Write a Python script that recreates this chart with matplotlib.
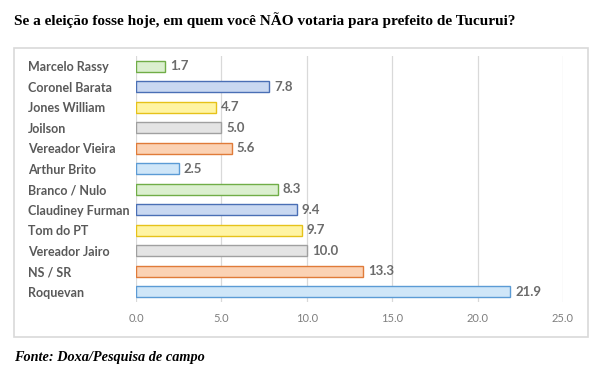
import matplotlib.pyplot as plt
from matplotlib.patches import Rectangle

nomes = ['Marcelo Rassy', 'Coronel Barata', 'Jones William', 'Joilson',
         'Vereador Vieira', 'Arthur Brito', 'Branco / Nulo', 'Claudiney Furman',
         'Tom do PT', 'Vereador Jairo', 'NS / SR', 'Roquevan']
valores = [1.7, 7.8, 4.7, 5.0, 5.6, 2.5, 8.3, 9.4, 9.7, 10.0, 13.3, 21.9]
ticks = [0, 5, 10, 15, 20, 25]

# office-like palette: (fill, edge)
paleta = [('#dbefcf', '#70ad47'), ('#c9d8f1', '#4a6fb5'), ('#fff4a3', '#e6c21a'),
          ('#e4e4e4', '#a0a0a0'), ('#fbd2b4', '#e07b39'), ('#cfe6f8', '#5b9bd5')]
fills = [paleta[i % 6][0] for i in range(len(nomes))]
edges = [paleta[i % 6][1] for i in range(len(nomes))]

fig = plt.figure(figsize=(6.1, 3.84), dpi=100)
fig.patches.append(Rectangle((14 / 610, 1 - 337 / 384), 574 / 610, 289 / 384,
                             transform=fig.transFigure, fill=False,
                             edgecolor='#d9d9d9', linewidth=1.2))

ax = fig.add_axes([136 / 610, 1 - 302 / 384, 427 / 610, 246 / 384])
y = list(range(len(nomes)))
ax.barh(y, valores, height=0.55, color=fills, edgecolor=edges, linewidth=1.0, zorder=3)
for yi, v in zip(y, valores):
    ax.text(v + 0.3, yi, f'{v:.1f}', va='center', ha='left', fontsize=9.5,
            fontweight='bold', color='#6b6b6b', family='Lato')

ax.set_xlim(0, 25)
ax.set_ylim(len(nomes) - 0.5, -0.5)
ax.set_xticks(ticks)
ax.set_xticklabels([f'{t:.1f}' for t in ticks], fontsize=8, color='#7f7f7f', family='Lato')
ax.set_yticks(y)
ax.set_yticklabels(nomes, fontsize=9, fontweight='bold', color='#595959', family='Lato')
for lab in ax.get_yticklabels():
    lab.set_horizontalalignment('left')
ax.tick_params(axis='y', length=0, pad=(136 - 28) * 0.72)
ax.tick_params(axis='x', length=0, pad=8)
ax.grid(axis='x', color='#d9d9d9', linewidth=0.9, zorder=0)
for s in ax.spines.values():
    s.set_visible(False)

fig.text(14 / 610, 1 - 20 / 384, 'Se a eleição fosse hoje, em quem você NÃO votaria para prefeito de Tucurui?',
         fontsize=11, fontweight='bold', family='Liberation Serif', va='center', ha='left')
fig.text(14 / 610, 1 - 357 / 384, 'Fonte: Doxa/Pesquisa de campo', fontsize=10.3,
         fontweight='bold', fontstyle='italic', family='Liberation Serif', va='center', ha='left')

fig.savefig('out.png', dpi=100)
